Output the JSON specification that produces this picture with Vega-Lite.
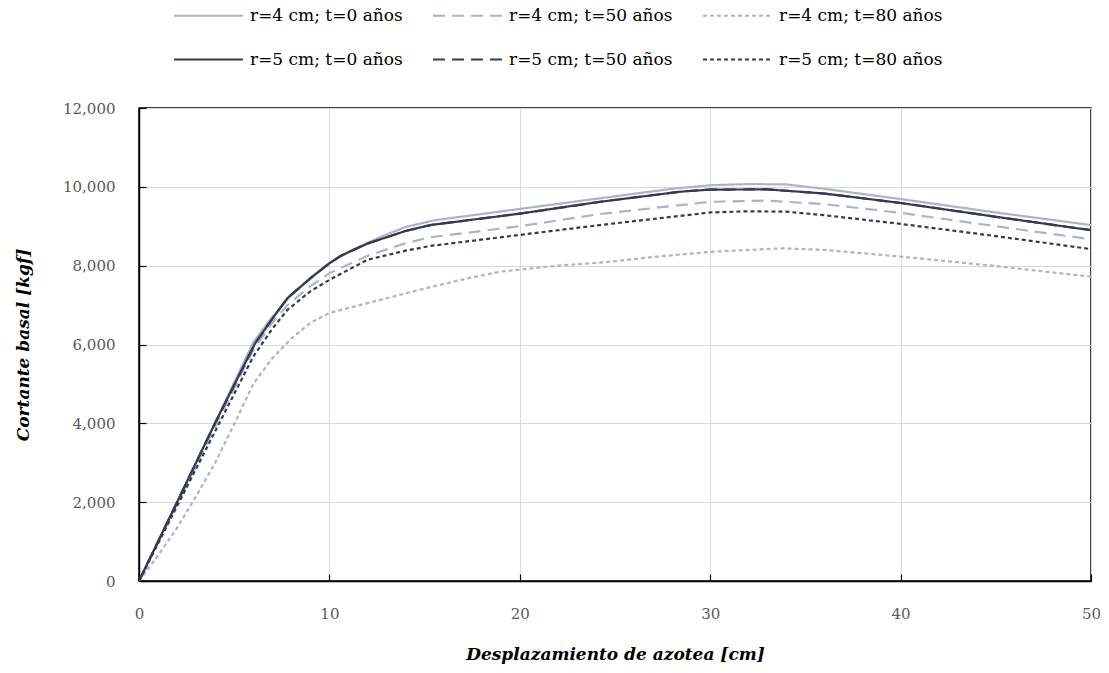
{
  "$schema": "https://vega.github.io/schema/vega-lite/v6.json",
  "width": 952,
  "height": 473,
  "autosize": "none",
  "padding": {"left": 139, "top": 108, "right": 18, "bottom": 92},
  "background": "white",
  "datasets": {
    "curvas": [
      {"serie": "r=4 cm; t=0 años", "x": 0, "y": 0},
      {"serie": "r=4 cm; t=0 años", "x": 2, "y": 2000},
      {"serie": "r=4 cm; t=0 años", "x": 4, "y": 4020},
      {"serie": "r=4 cm; t=0 años", "x": 6, "y": 6050},
      {"serie": "r=4 cm; t=0 años", "x": 7, "y": 6700},
      {"serie": "r=4 cm; t=0 años", "x": 8, "y": 7250},
      {"serie": "r=4 cm; t=0 años", "x": 9, "y": 7680},
      {"serie": "r=4 cm; t=0 años", "x": 10, "y": 8070},
      {"serie": "r=4 cm; t=0 años", "x": 11, "y": 8350},
      {"serie": "r=4 cm; t=0 años", "x": 12, "y": 8580},
      {"serie": "r=4 cm; t=0 años", "x": 13, "y": 8790},
      {"serie": "r=4 cm; t=0 años", "x": 14, "y": 8980},
      {"serie": "r=4 cm; t=0 años", "x": 15.5, "y": 9150},
      {"serie": "r=4 cm; t=0 años", "x": 20, "y": 9440},
      {"serie": "r=4 cm; t=0 años", "x": 25, "y": 9760},
      {"serie": "r=4 cm; t=0 años", "x": 28, "y": 9950},
      {"serie": "r=4 cm; t=0 años", "x": 30, "y": 10040},
      {"serie": "r=4 cm; t=0 años", "x": 32, "y": 10070},
      {"serie": "r=4 cm; t=0 años", "x": 34, "y": 10060},
      {"serie": "r=4 cm; t=0 años", "x": 36, "y": 9950},
      {"serie": "r=4 cm; t=0 años", "x": 40, "y": 9690},
      {"serie": "r=4 cm; t=0 años", "x": 45, "y": 9350},
      {"serie": "r=4 cm; t=0 años", "x": 50, "y": 9030},

      {"serie": "r=4 cm; t=50 años", "x": 0, "y": 0},
      {"serie": "r=4 cm; t=50 años", "x": 2, "y": 1950},
      {"serie": "r=4 cm; t=50 años", "x": 4, "y": 3920},
      {"serie": "r=4 cm; t=50 años", "x": 6, "y": 5860},
      {"serie": "r=4 cm; t=50 años", "x": 7, "y": 6550},
      {"serie": "r=4 cm; t=50 años", "x": 7.8, "y": 7000},
      {"serie": "r=4 cm; t=50 años", "x": 9, "y": 7480},
      {"serie": "r=4 cm; t=50 años", "x": 10, "y": 7810},
      {"serie": "r=4 cm; t=50 años", "x": 12, "y": 8250},
      {"serie": "r=4 cm; t=50 años", "x": 14, "y": 8570},
      {"serie": "r=4 cm; t=50 años", "x": 15.3, "y": 8720},
      {"serie": "r=4 cm; t=50 años", "x": 20, "y": 9000},
      {"serie": "r=4 cm; t=50 años", "x": 24.2, "y": 9310},
      {"serie": "r=4 cm; t=50 años", "x": 30, "y": 9620},
      {"serie": "r=4 cm; t=50 años", "x": 33, "y": 9650},
      {"serie": "r=4 cm; t=50 años", "x": 36, "y": 9560},
      {"serie": "r=4 cm; t=50 años", "x": 40, "y": 9340},
      {"serie": "r=4 cm; t=50 años", "x": 45, "y": 9000},
      {"serie": "r=4 cm; t=50 años", "x": 50, "y": 8670},

      {"serie": "r=4 cm; t=80 años", "x": 0, "y": 0},
      {"serie": "r=4 cm; t=80 años", "x": 1, "y": 650},
      {"serie": "r=4 cm; t=80 años", "x": 2, "y": 1350},
      {"serie": "r=4 cm; t=80 años", "x": 3, "y": 2150},
      {"serie": "r=4 cm; t=80 años", "x": 4, "y": 3000},
      {"serie": "r=4 cm; t=80 años", "x": 5, "y": 3980},
      {"serie": "r=4 cm; t=80 años", "x": 6, "y": 5000},
      {"serie": "r=4 cm; t=80 años", "x": 7, "y": 5650},
      {"serie": "r=4 cm; t=80 años", "x": 8, "y": 6150},
      {"serie": "r=4 cm; t=80 años", "x": 9, "y": 6550},
      {"serie": "r=4 cm; t=80 años", "x": 10, "y": 6800},
      {"serie": "r=4 cm; t=80 años", "x": 12, "y": 7050},
      {"serie": "r=4 cm; t=80 años", "x": 15, "y": 7420},
      {"serie": "r=4 cm; t=80 años", "x": 17, "y": 7650},
      {"serie": "r=4 cm; t=80 años", "x": 19, "y": 7850},
      {"serie": "r=4 cm; t=80 años", "x": 22, "y": 8000},
      {"serie": "r=4 cm; t=80 años", "x": 24.2, "y": 8075},
      {"serie": "r=4 cm; t=80 años", "x": 27, "y": 8220},
      {"serie": "r=4 cm; t=80 años", "x": 30, "y": 8350},
      {"serie": "r=4 cm; t=80 años", "x": 33.7, "y": 8440},
      {"serie": "r=4 cm; t=80 años", "x": 36, "y": 8400},
      {"serie": "r=4 cm; t=80 años", "x": 40, "y": 8230},
      {"serie": "r=4 cm; t=80 años", "x": 45, "y": 7990},
      {"serie": "r=4 cm; t=80 años", "x": 50, "y": 7720},

      {"serie": "r=5 cm; t=0 años", "x": 0, "y": 0},
      {"serie": "r=5 cm; t=0 años", "x": 2, "y": 2000},
      {"serie": "r=5 cm; t=0 años", "x": 4, "y": 4010},
      {"serie": "r=5 cm; t=0 años", "x": 6.1, "y": 6030},
      {"serie": "r=5 cm; t=0 años", "x": 7, "y": 6650},
      {"serie": "r=5 cm; t=0 años", "x": 7.8, "y": 7180},
      {"serie": "r=5 cm; t=0 años", "x": 9, "y": 7680},
      {"serie": "r=5 cm; t=0 años", "x": 10, "y": 8060},
      {"serie": "r=5 cm; t=0 años", "x": 10.6, "y": 8250},
      {"serie": "r=5 cm; t=0 años", "x": 12, "y": 8560},
      {"serie": "r=5 cm; t=0 años", "x": 14, "y": 8880},
      {"serie": "r=5 cm; t=0 años", "x": 15.3, "y": 9030},
      {"serie": "r=5 cm; t=0 años", "x": 20, "y": 9320},
      {"serie": "r=5 cm; t=0 años", "x": 24.2, "y": 9620},
      {"serie": "r=5 cm; t=0 años", "x": 28.5, "y": 9880},
      {"serie": "r=5 cm; t=0 años", "x": 30, "y": 9930},
      {"serie": "r=5 cm; t=0 años", "x": 33, "y": 9935},
      {"serie": "r=5 cm; t=0 años", "x": 36, "y": 9830},
      {"serie": "r=5 cm; t=0 años", "x": 40, "y": 9590},
      {"serie": "r=5 cm; t=0 años", "x": 45, "y": 9240},
      {"serie": "r=5 cm; t=0 años", "x": 50, "y": 8900},

      {"serie": "r=5 cm; t=50 años", "x": 0, "y": 0},
      {"serie": "r=5 cm; t=50 años", "x": 2, "y": 2000},
      {"serie": "r=5 cm; t=50 años", "x": 4, "y": 4010},
      {"serie": "r=5 cm; t=50 años", "x": 6.1, "y": 6030},
      {"serie": "r=5 cm; t=50 años", "x": 7, "y": 6650},
      {"serie": "r=5 cm; t=50 años", "x": 7.8, "y": 7180},
      {"serie": "r=5 cm; t=50 años", "x": 9, "y": 7680},
      {"serie": "r=5 cm; t=50 años", "x": 10, "y": 8060},
      {"serie": "r=5 cm; t=50 años", "x": 10.6, "y": 8250},
      {"serie": "r=5 cm; t=50 años", "x": 12, "y": 8560},
      {"serie": "r=5 cm; t=50 años", "x": 14, "y": 8880},
      {"serie": "r=5 cm; t=50 años", "x": 15.3, "y": 9030},
      {"serie": "r=5 cm; t=50 años", "x": 20, "y": 9320},
      {"serie": "r=5 cm; t=50 años", "x": 24.2, "y": 9620},
      {"serie": "r=5 cm; t=50 años", "x": 28.5, "y": 9880},
      {"serie": "r=5 cm; t=50 años", "x": 30, "y": 9930},
      {"serie": "r=5 cm; t=50 años", "x": 33, "y": 9935},
      {"serie": "r=5 cm; t=50 años", "x": 36, "y": 9830},
      {"serie": "r=5 cm; t=50 años", "x": 40, "y": 9590},
      {"serie": "r=5 cm; t=50 años", "x": 45, "y": 9240},
      {"serie": "r=5 cm; t=50 años", "x": 50, "y": 8900},

      {"serie": "r=5 cm; t=80 años", "x": 0, "y": 0},
      {"serie": "r=5 cm; t=80 años", "x": 2, "y": 1900},
      {"serie": "r=5 cm; t=80 años", "x": 4, "y": 3800},
      {"serie": "r=5 cm; t=80 años", "x": 6, "y": 5690},
      {"serie": "r=5 cm; t=80 años", "x": 7, "y": 6400},
      {"serie": "r=5 cm; t=80 años", "x": 7.8, "y": 6880},
      {"serie": "r=5 cm; t=80 años", "x": 9, "y": 7350},
      {"serie": "r=5 cm; t=80 años", "x": 10, "y": 7640},
      {"serie": "r=5 cm; t=80 años", "x": 12, "y": 8150},
      {"serie": "r=5 cm; t=80 años", "x": 14, "y": 8380},
      {"serie": "r=5 cm; t=80 años", "x": 15.3, "y": 8500},
      {"serie": "r=5 cm; t=80 años", "x": 20, "y": 8780},
      {"serie": "r=5 cm; t=80 años", "x": 24.2, "y": 9030},
      {"serie": "r=5 cm; t=80 años", "x": 30, "y": 9350},
      {"serie": "r=5 cm; t=80 años", "x": 32, "y": 9380},
      {"serie": "r=5 cm; t=80 años", "x": 34, "y": 9370},
      {"serie": "r=5 cm; t=80 años", "x": 36, "y": 9280},
      {"serie": "r=5 cm; t=80 años", "x": 40, "y": 9060},
      {"serie": "r=5 cm; t=80 años", "x": 45, "y": 8750},
      {"serie": "r=5 cm; t=80 años", "x": 50, "y": 8420}
    ]
  },
  "data": {"name": "curvas"},
  "mark": {"type": "line", "strokeWidth": 2.2, "clip": true},
  "encoding": {
    "x": {
      "field": "x",
      "type": "quantitative",
      "scale": {"domain": [0, 50], "nice": false, "zero": false},
      "axis": {
        "title": "Desplazamiento de azotea [cm]",
        "values": [0, 10, 20, 30, 40, 50],
        "format": "d",
        "labelFlush": false,
        "labelPadding": 32,
        "titlePadding": 25
      }
    },
    "y": {
      "field": "y",
      "type": "quantitative",
      "scale": {"domain": [0, 12000], "nice": false},
      "axis": {
        "title": "Cortante basal [kgf]",
        "values": [0, 2000, 4000, 6000, 8000, 10000, 12000],
        "format": ",.0f",
        "labelFlush": false,
        "labelPadding": 31,
        "titlePadding": 30
      }
    },
    "color": {
      "field": "serie",
      "type": "nominal",
      "scale": {
        "domain": ["r=4 cm; t=0 años", "r=4 cm; t=50 años", "r=4 cm; t=80 años", "r=5 cm; t=0 años", "r=5 cm; t=50 años", "r=5 cm; t=80 años"],
        "range": ["#aab4c8", "#aab4c8", "#aab4c8", "#323c50", "#323c50", "#323c50"]
      },
      "legend": {"title": null, "direction": "horizontal"}
    },
    "strokeDash": {
      "field": "serie",
      "type": "nominal",
      "scale": {
        "domain": ["r=4 cm; t=0 años", "r=4 cm; t=50 años", "r=4 cm; t=80 años", "r=5 cm; t=0 años", "r=5 cm; t=50 años", "r=5 cm; t=80 años"],
        "range": [[1, 0], [12, 7], [4, 3], [1, 0], [12, 7], [4, 3]]
      },
      "legend": {"title": null, "direction": "horizontal"}
    },
    "order": {"field": "x", "type": "quantitative"}
  },
  "config": {
    "view": {"stroke": "#000000", "strokeWidth": 1.5},
    "font": "DejaVu Serif",
    "axis": {
      "grid": true,
      "gridColor": "#d9d9d9",
      "gridWidth": 1,
      "domain": true,
      "domainColor": "#000000",
      "domainWidth": 1.5,
      "ticks": true,
      "tickColor": "#000000",
      "tickSize": -7,
      "tickWidth": 1.2,
      "labelFont": "DejaVu Serif",
      "labelFontSize": 15,
      "labelColor": "#595959",
      "titleFont": "DejaVu Serif",
      "titleFontSize": 17,
      "titleFontWeight": "bold",
      "titleFontStyle": "italic",
      "titleColor": "#000000"
    },
    "legend": {
      "orient": "none",
      "direction": "horizontal",
      "legendX": 34,
      "legendY": -128,
      "columns": 3,
      "symbolType": "stroke",
      "symbolSize": 4761,
      "symbolStrokeWidth": 2,
      "labelFont": "DejaVu Serif",
      "labelFontSize": 17,
      "labelColor": "#000000",
      "labelOffset": 6,
      "labelLimit": 400,
      "columnPadding": 26,
      "rowPadding": -16
    }
  }
}
